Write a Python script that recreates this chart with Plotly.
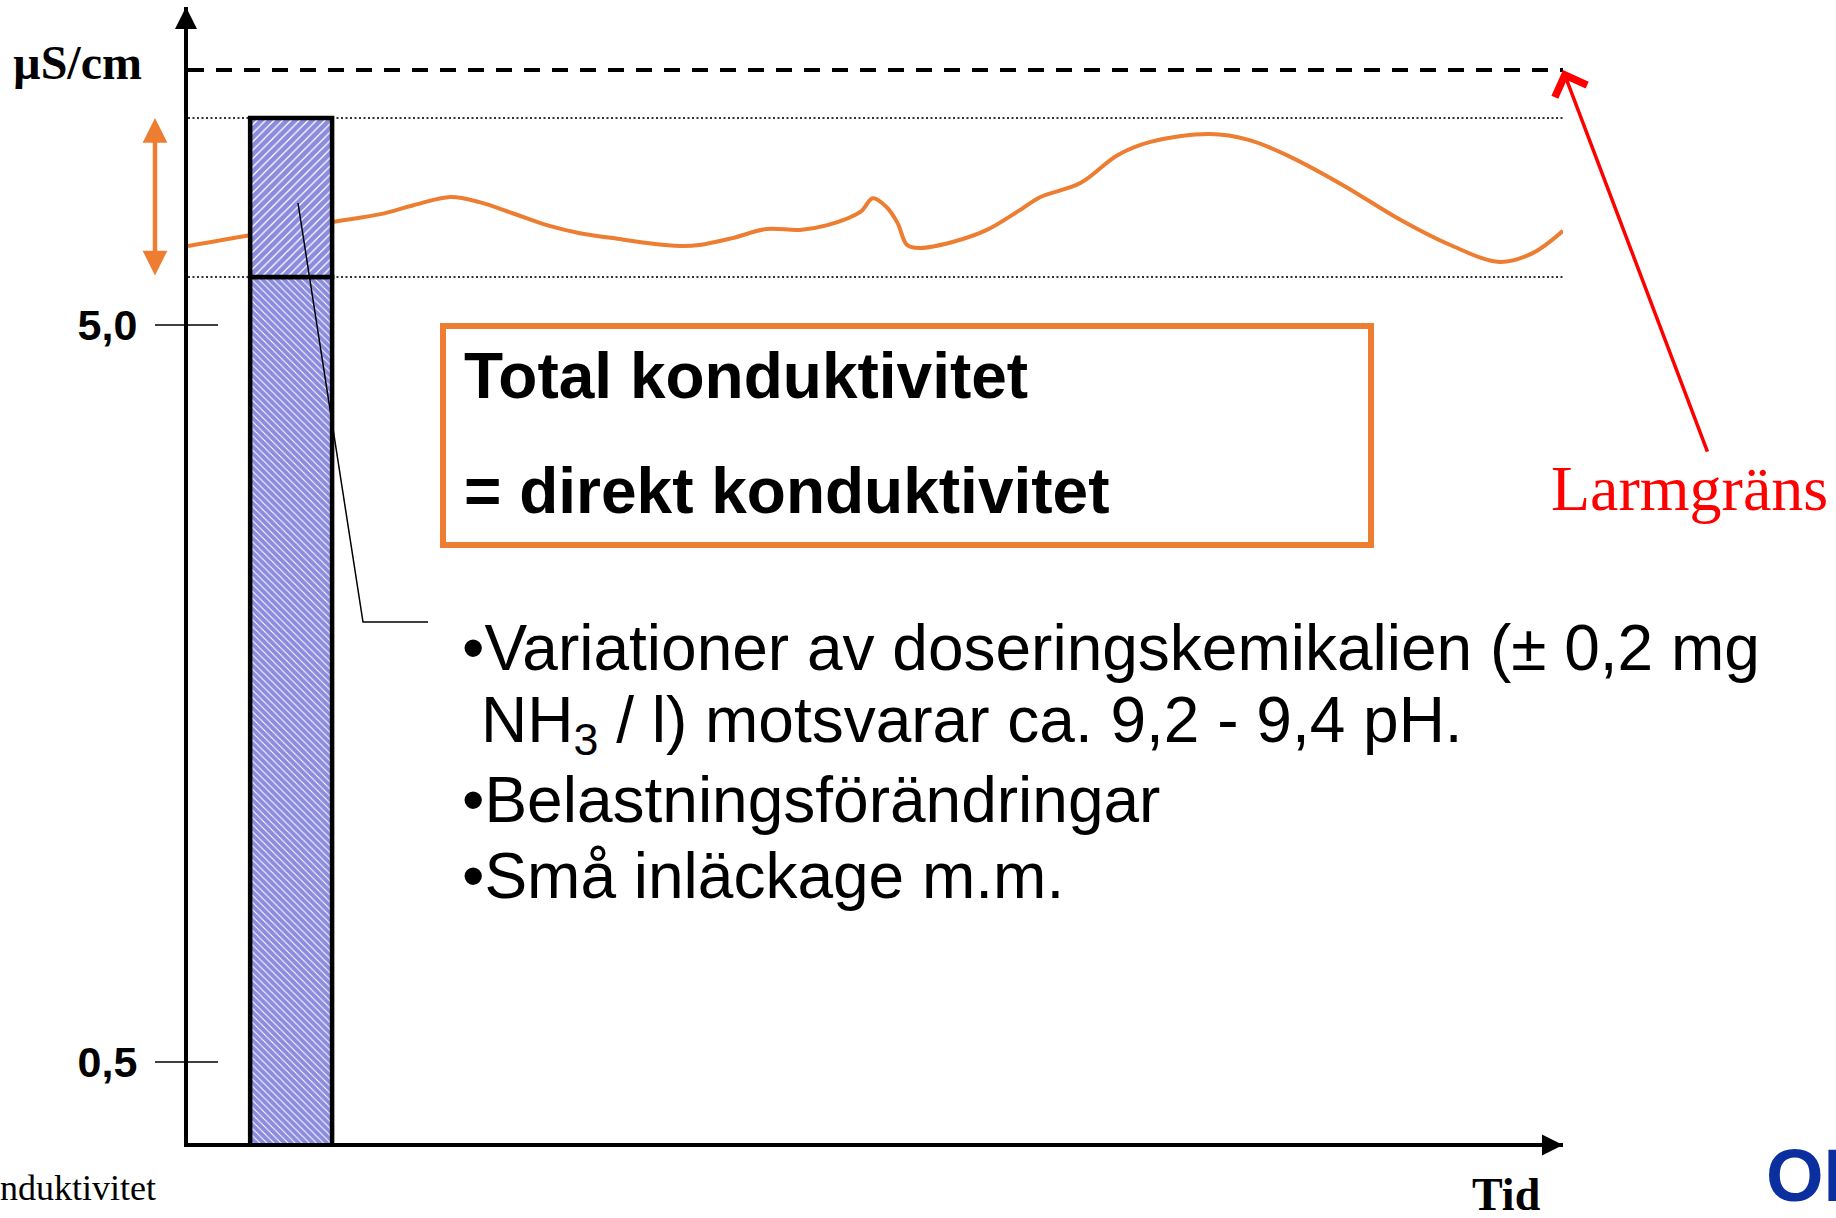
import numpy as np
import plotly.graph_objects as go

# ---------------- data ----------------
TIME = [0, 4.5, 10.5, 14.0, 16.4, 19.1, 21.2, 23.6, 26.1, 28.5,
        30.9, 33.4, 35.8, 37.2, 39.6, 42.1, 44.5, 46.5, 48.9, 49.8,
        50.8, 51.6, 52.3, 53.2, 55.6, 58.1, 60.5, 62.0, 64.9, 67.6,
        70.0, 74.3, 77.2, 80.2, 84.0, 88.2, 91.8, 95.4, 97.8, 100]
CONDUCTIVITY = [6.40, 6.62, 6.90, 7.07, 7.27, 7.46, 7.34, 7.09, 6.83, 6.66,
                6.56, 6.46, 6.40, 6.42, 6.56, 6.75, 6.73, 6.83, 7.12, 7.43,
                7.23, 6.88, 6.42, 6.36, 6.48, 6.73, 7.16, 7.46, 7.79, 8.50,
                8.86, 9.08, 8.91, 8.45, 7.74, 6.94, 6.42, 6.09, 6.26, 6.71]
BAND_LOWER = 5.81
BAND_UPPER = 9.55
ALARM_LIMIT = 11.09
BAR_TIME = [7.5]
Y_TICK_VALUES = [0.5, 5.0]
Y_TICK_TEXT = ["0,5", "5,0"]
X_RANGE = [0, 100]
Y_RANGE_LOG = [-0.411, 1.1305]

# ---------------- geometry / style ----------------
W, H = 1836, 1218
PL, PR, PT, PB = 188, 1563, 7, 1143
ORANGE = "#ED7D31"
HATCH = "#1a1ac0"
SANS = "Liberation Sans, Arial, sans-serif"
SERIF = "Liberation Serif, Times New Roman, serif"


def px_x(px):
    return (px - PL) / (PR - PL)


def px_y(py):
    return (PB - py) / (PB - PT)


def val_y(v):
    return (np.log10(v) - Y_RANGE_LOG[0]) / (Y_RANGE_LOG[1] - Y_RANGE_LOG[0])


fig = go.Figure()

# alarm limit (dashed)
fig.add_trace(go.Scatter(x=X_RANGE, y=[ALARM_LIMIT] * 2, mode="lines",
                         line=dict(color="black", width=4, dash="16px,12px"),
                         hoverinfo="skip"))
# band limits (dotted)
for lvl in (BAND_UPPER, BAND_LOWER):
    fig.add_trace(go.Scatter(x=X_RANGE, y=[lvl] * 2, mode="lines",
                             line=dict(color="#333333", width=2, dash="2px,2.5px"),
                             hoverinfo="skip"))
# conductivity curve
fig.add_trace(go.Scatter(x=TIME, y=CONDUCTIVITY, mode="lines",
                         line=dict(color=ORANGE, width=4, shape="spline", smoothing=1.0),
                         hoverinfo="skip"))

# bar (on overlay axis so it is drawn above the curve)
bar_bottom = 10 ** (Y_RANGE_LOG[0] - 0.01)
fig.add_trace(go.Bar(x=BAR_TIME, y=[BAND_LOWER - bar_bottom], base=[bar_bottom],
                     width=5.96, xaxis="x", yaxis="y2",
                     marker=dict(color="white",
                                 line=dict(color="black", width=4.5),
                                 pattern=dict(shape="\\", fgcolor=HATCH, bgcolor="white",
                                              size=5, solidity=0.8)),
                     hoverinfo="skip"))
fig.add_trace(go.Bar(x=BAR_TIME, y=[BAND_UPPER - BAND_LOWER], base=[BAND_LOWER],
                     width=5.96, xaxis="x", yaxis="y2",
                     marker=dict(color="white",
                                 line=dict(color="black", width=4.5),
                                 pattern=dict(shape="/", fgcolor=HATCH, bgcolor="white",
                                              size=6, solidity=0.8)),
                     hoverinfo="skip"))

shapes = []
# y tick crosses
for v in Y_TICK_VALUES:
    shapes.append(dict(type="line", xref="paper", yref="paper",
                       x0=px_x(155), x1=px_x(218), y0=val_y(v), y1=val_y(v),
                       line=dict(color="black", width=1.5)))
# text box
shapes.append(dict(type="rect", xref="paper", yref="paper",
                   x0=px_x(443), x1=px_x(1371), y0=px_y(326), y1=px_y(545),
                   line=dict(color=ORANGE, width=6), fillcolor="rgba(0,0,0,0)"))
# leader line
shapes.append(dict(type="path", xref="paper", yref="paper",
                   path=f"M {px_x(298)},{px_y(203)} L {px_x(363)},{px_y(622)} L {px_x(428)},{px_y(622)}",
                   line=dict(color="black", width=1.5)))

ann = []
# axis arrowheads
ann.append(dict(xref="paper", yref="paper", x=px_x(186), y=1, ax=0, ay=24, text="",
                showarrow=True, arrowhead=2, arrowsize=1.1, arrowwidth=4, arrowcolor="black"))
ann.append(dict(xref="paper", yref="paper", x=1, y=px_y(1145), ax=-24, ay=0, text="",
                showarrow=True, arrowhead=2, arrowsize=1.05, arrowwidth=4, arrowcolor="black"))
# orange band double arrow
ann.append(dict(xref="paper", yref="y", x=px_x(155), y=np.log10(BAND_UPPER),
                axref="pixel", ayref="y", ax=0, ay=np.log10(BAND_LOWER), text="",
                showarrow=True, arrowhead=2, arrowsize=1.1, arrowwidth=4.5,
                arrowside="end+start", startarrowhead=2, startarrowsize=1.1,
                arrowcolor=ORANGE))
# red alarm arrow
ann.append(dict(xref="x", yref="y", x=X_RANGE[1], y=np.log10(ALARM_LIMIT),
                ax=145, ay=383, text="", showarrow=True, arrowhead=4,
                arrowsize=1.9, arrowwidth=3.5, arrowcolor="#FF0000"))


def text(t, x, y, size, family, color="black", anchor="left", bold=False):
    if bold:
        t = f"<b>{t}</b>"
    ann.append(dict(xref="paper", yref="paper", x=px_x(x), y=px_y(y), text=t,
                    showarrow=False, xanchor=anchor, yanchor="middle",
                    font=dict(size=size, family=family, color=color)))


text("µS/cm", 11, 62, 48, SERIF, bold=True)
text("Larmgräns", 1549, 488, 64, SERIF, color="#FF0000")
text("Total konduktivitet", 462, 376, 64, SANS, bold=True)
text("= direkt konduktivitet", 462, 491, 64, SANS, bold=True)
text("•Variationer av doseringskemikalien (± 0,2 mg", 460, 648, 64, SANS)
text("NH<sub>3</sub> / l) motsvarar ca. 9,2 - 9,4 pH.", 479, 724, 64, SANS)
text("•Belastningsförändringar", 460, 800, 64, SANS)
text("•Små inläckage m.m.", 460, 876, 64, SANS)
text("Tid", 1470, 1194, 46, SERIF, bold=True)
text("nduktivitet", -2, 1188, 36, SERIF)
text("OKG", 1764, 1175, 74, SANS, color="#0b2f9f", bold=True)

fig.update_layout(
    width=W, height=H, autosize=False,
    margin=dict(l=PL, r=W - PR, t=PT, b=H - PB, pad=0),
    paper_bgcolor="white", plot_bgcolor="white",
    showlegend=False, barmode="overlay",
    xaxis=dict(range=X_RANGE, showgrid=False, zeroline=False, showline=True,
               linecolor="black", linewidth=4, showticklabels=False, ticks=""),
    yaxis=dict(type="log", range=Y_RANGE_LOG, showgrid=False, zeroline=False,
               showline=True, linecolor="black", linewidth=4, ticks="",
               tickvals=Y_TICK_VALUES, ticktext=Y_TICK_TEXT,
               tickfont=dict(size=43, family=SANS, color="black", weight="bold"),
               ticklabelstandoff=38),
    yaxis2=dict(type="log", range=Y_RANGE_LOG, overlaying="y", visible=False),
    shapes=shapes, annotations=ann,
)

fig.write_html("out.html", config={"displayModeBar": False},
               post_script="document.body.style.margin='0';document.body.style.padding='0';")
